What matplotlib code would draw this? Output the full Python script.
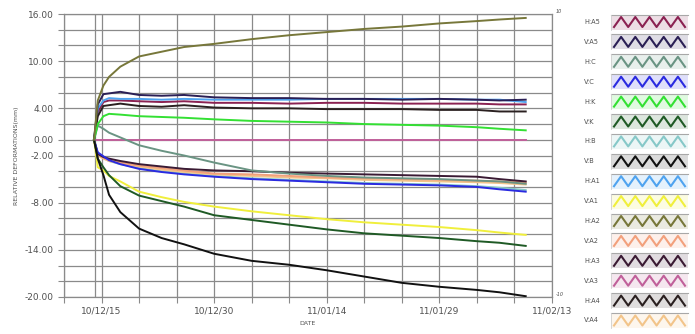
import matplotlib
matplotlib.use("Agg")
import matplotlib.pyplot as plt
import matplotlib.dates as mdates
from matplotlib.patches import Rectangle
import pandas as pd

# reading dates (start of monitoring 10/12/14)
dates = ["2010-12-14 00:00", "2010-12-14 12:00", "2010-12-15 06:00", "2010-12-16 00:00",
         "2010-12-17 12:00", "2010-12-20 00:00", "2010-12-23 00:00", "2010-12-26 00:00",
         "2010-12-30 00:00", "2011-01-04 00:00", "2011-01-09 00:00", "2011-01-14 00:00",
         "2011-01-19 00:00", "2011-01-24 00:00", "2011-01-29 00:00", "2011-02-03 00:00",
         "2011-02-06 00:00", "2011-02-09 12:00"]

series_names = ["H:A5", "V:A5", "H:C", "V:C", "H:K", "V:K", "H:B", "V:B",
                "H:A1", "V:A1", "H:A2", "V:A2", "H:A3", "V:A3", "H:A4", "V:A4"]

series_colors = ["#8b2252", "#2a1f55", "#6a9483", "#2a2ae0", "#33e033", "#1f5a25",
                 "#86c8c8", "#111111", "#4fa3ef", "#f0ef3c", "#77773a", "#f2a07c",
                 "#3a1a33", "#c0609a", "#2a2020", "#f2c48a"]

h_a5 = [0, 3.5, 4.8, 5.0, 5.0, 4.9, 4.8, 4.9, 4.7, 4.7, 4.6, 4.7, 4.7, 4.6, 4.6, 4.6, 4.5, 4.5]
v_a5 = [0, 4.5, 5.8, 5.9, 6.1, 5.7, 5.6, 5.7, 5.4, 5.3, 5.3, 5.2, 5.2, 5.1, 5.2, 5.1, 5.0, 5.1]
h_c = [0, 1.8, 1.4, 0.9, 0.3, -0.7, -1.4, -2.0, -2.9, -3.9, -4.3, -4.6, -4.8, -4.9, -5.0, -5.2, -5.3, -5.6]
v_c = [0, -1.6, -2.1, -2.6, -3.1, -3.7, -4.1, -4.4, -4.7, -5.0, -5.2, -5.4, -5.6, -5.7, -5.8, -6.0, -6.3, -6.6]
h_k = [0, 2.0, 3.0, 3.3, 3.2, 3.0, 2.9, 2.8, 2.6, 2.4, 2.3, 2.2, 2.0, 1.9, 1.8, 1.6, 1.4, 1.2]
v_k = [0, -2.4, -3.5, -4.5, -5.9, -7.1, -7.8, -8.5, -9.6, -10.2, -10.8, -11.4, -11.9, -12.2, -12.5, -12.9, -13.1, -13.5]
h_b = [0, -1.8, -2.3, -2.7, -3.1, -3.6, -4.0, -4.3, -4.6, -4.9, -5.1, -5.3, -5.5, -5.6, -5.7, -5.9, -6.1, -6.4]
v_b = [0, -2.4, -4.5, -7.0, -9.2, -11.3, -12.5, -13.3, -14.5, -15.4, -15.9, -16.6, -17.4, -18.2, -18.7, -19.1, -19.4, -19.9]
h_a1 = [0, 4.0, 5.0, 5.3, 5.2, 5.2, 5.1, 5.2, 5.1, 5.1, 5.1, 5.2, 5.2, 5.2, 5.2, 5.1, 5.1, 4.8]
v_a1 = [0, -3.5, -3.9, -4.6, -5.3, -6.6, -7.3, -7.9, -8.5, -9.1, -9.6, -10.1, -10.5, -10.8, -11.1, -11.5, -11.8, -12.1]
h_a2 = [0, 5.0, 6.9, 8.0, 9.3, 10.6, 11.2, 11.8, 12.2, 12.8, 13.3, 13.7, 14.1, 14.4, 14.8, 15.1, 15.3, 15.5]
v_a2 = [0, -1.9, -2.3, -2.6, -2.9, -3.3, -3.6, -3.9, -4.3, -4.4, -4.6, -4.8, -4.9, -5.0, -5.1, -5.2, -5.3, -5.4]
h_a3 = [0, -1.8, -2.2, -2.4, -2.7, -3.1, -3.4, -3.7, -3.9, -4.0, -4.2, -4.3, -4.4, -4.5, -4.6, -4.7, -5.0, -5.3]
v_a3 = [0, 0, 0, 0, 0, 0, 0, 0, 0, 0, 0, 0, 0, 0, 0, 0, 0, 0]
h_a4 = [0, 3.0, 4.3, 4.4, 4.6, 4.3, 4.2, 4.4, 4.1, 4.0, 4.0, 3.9, 3.9, 3.9, 3.8, 3.8, 3.6, 3.6]
v_a4 = [0, -2.0, -2.4, -2.7, -3.0, -3.4, -3.8, -4.1, -4.4, -4.6, -4.8, -4.9, -5.1, -5.2, -5.3, -5.4, -5.5, -5.7]

series_values = [h_a5, v_a5, h_c, v_c, h_k, v_k, h_b, v_b,
                 h_a1, v_a1, h_a2, v_a2, h_a3, v_a3, h_a4, v_a4]

y_tick_values = [16, 10, 4, 0, -2, -8, -14, -20]
x_tick_dates = ["2010-12-15", "2010-12-30", "2011-01-14", "2011-01-29", "2011-02-13"]

x = pd.to_datetime(dates)
x_start = pd.Timestamp("2010-12-10")
x_end = pd.Timestamp("2011-02-13")

fig = plt.figure(figsize=(6.95, 3.34), dpi=100)
ax = fig.add_axes([64 / 695, 1 - 297 / 334, (552 - 64) / 695, (297 - 14) / 334])

grid_color = "#8a8a8a"
text_color = "#505050"

# grid: every 2 mm, every 5 days, plus start-of-monitoring line
for v in range(-20, 17, 2):
    ax.axhline(v, color=grid_color, lw=0.9, zorder=1)
for d in pd.date_range(x_start, x_end, freq="5D"):
    ax.axvline(d, color=grid_color, lw=0.9, zorder=1)
ax.axvline(pd.Timestamp("2010-12-14 02:00"), color=grid_color, lw=0.9, zorder=1)

draw_order = [13, 6, 15, 11, 12, 0, 2, 8, 1, 14, 4, 3, 9, 5, 7, 10]
for i in draw_order:
    ax.plot(x, series_values[i], color=series_colors[i], lw=1.4, zorder=3)

ax.set_xlim(x_start, x_end)
ax.set_ylim(-20, 16)
ax.set_yticks(y_tick_values)
ax.set_yticklabels([f"{v:.2f}" for v in y_tick_values])
ax.set_yticks(range(-20, 17, 2), minor=True)
ax.set_xticks(pd.to_datetime(x_tick_dates))
ax.xaxis.set_major_formatter(mdates.DateFormatter("%y/%m/%d"))
ax.set_xticks(pd.date_range(x_start, x_end, freq="5D"), minor=True)
ax.tick_params(axis="both", which="both", colors=grid_color, labelcolor=text_color,
               labelsize=6.5, length=4, width=0.8)
ax.tick_params(axis="x", pad=3)
for s in ax.spines.values():
    s.set_color(grid_color)
    s.set_linewidth(0.9)

ax.set_ylabel("RELATIVE DEFORMATIONS(mm)", fontsize=4.5, color=text_color, labelpad=4)
ax.set_xlabel("DATE", fontsize=4.5, color=text_color, labelpad=4)

ax.text(1.008, 1.0, "10", transform=ax.transAxes, fontsize=3.5, color=text_color,
        ha="left", va="bottom", style="italic")
ax.text(1.008, 0.0, "-10", transform=ax.transAxes, fontsize=3.5, color=text_color,
        ha="left", va="bottom", style="italic")

# legend panel on the right
lax = fig.add_axes([0, 0, 1, 1])
lax.set_xlim(0, 695)
lax.set_ylim(334, 0)
lax.axis("off")
row_y0 = 22
row_step = 19.9
box_x0, box_x1 = 611, 688
box_h = 15
for k, (name, col) in enumerate(zip(series_names, series_colors)):
    cy = row_y0 + k * row_step
    lax.add_patch(Rectangle((box_x0, cy - box_h / 2), box_x1 - box_x0, box_h,
                            facecolor=col, alpha=0.15, edgecolor="none"))
    lax.plot([box_x0, box_x1], [cy - box_h / 2, cy - box_h / 2], color="#a8a8a8", lw=0.8)
    lax.plot([box_x0, box_x0], [cy - box_h / 2, cy + box_h / 2], color="#d0d0d0", lw=0.6)
    zx = [box_x0 + 3 + j * (box_x1 - box_x0 - 6) / 10 for j in range(11)]
    zy = [cy + (5 if j % 2 == 0 else -5) for j in range(11)]
    lax.plot(zx, zy, color=col, lw=1.5)
    lax.text(584, cy, name, fontsize=4.8, color=text_color, ha="left", va="center")

plt.savefig("out.png", dpi=100)
plt.close()
